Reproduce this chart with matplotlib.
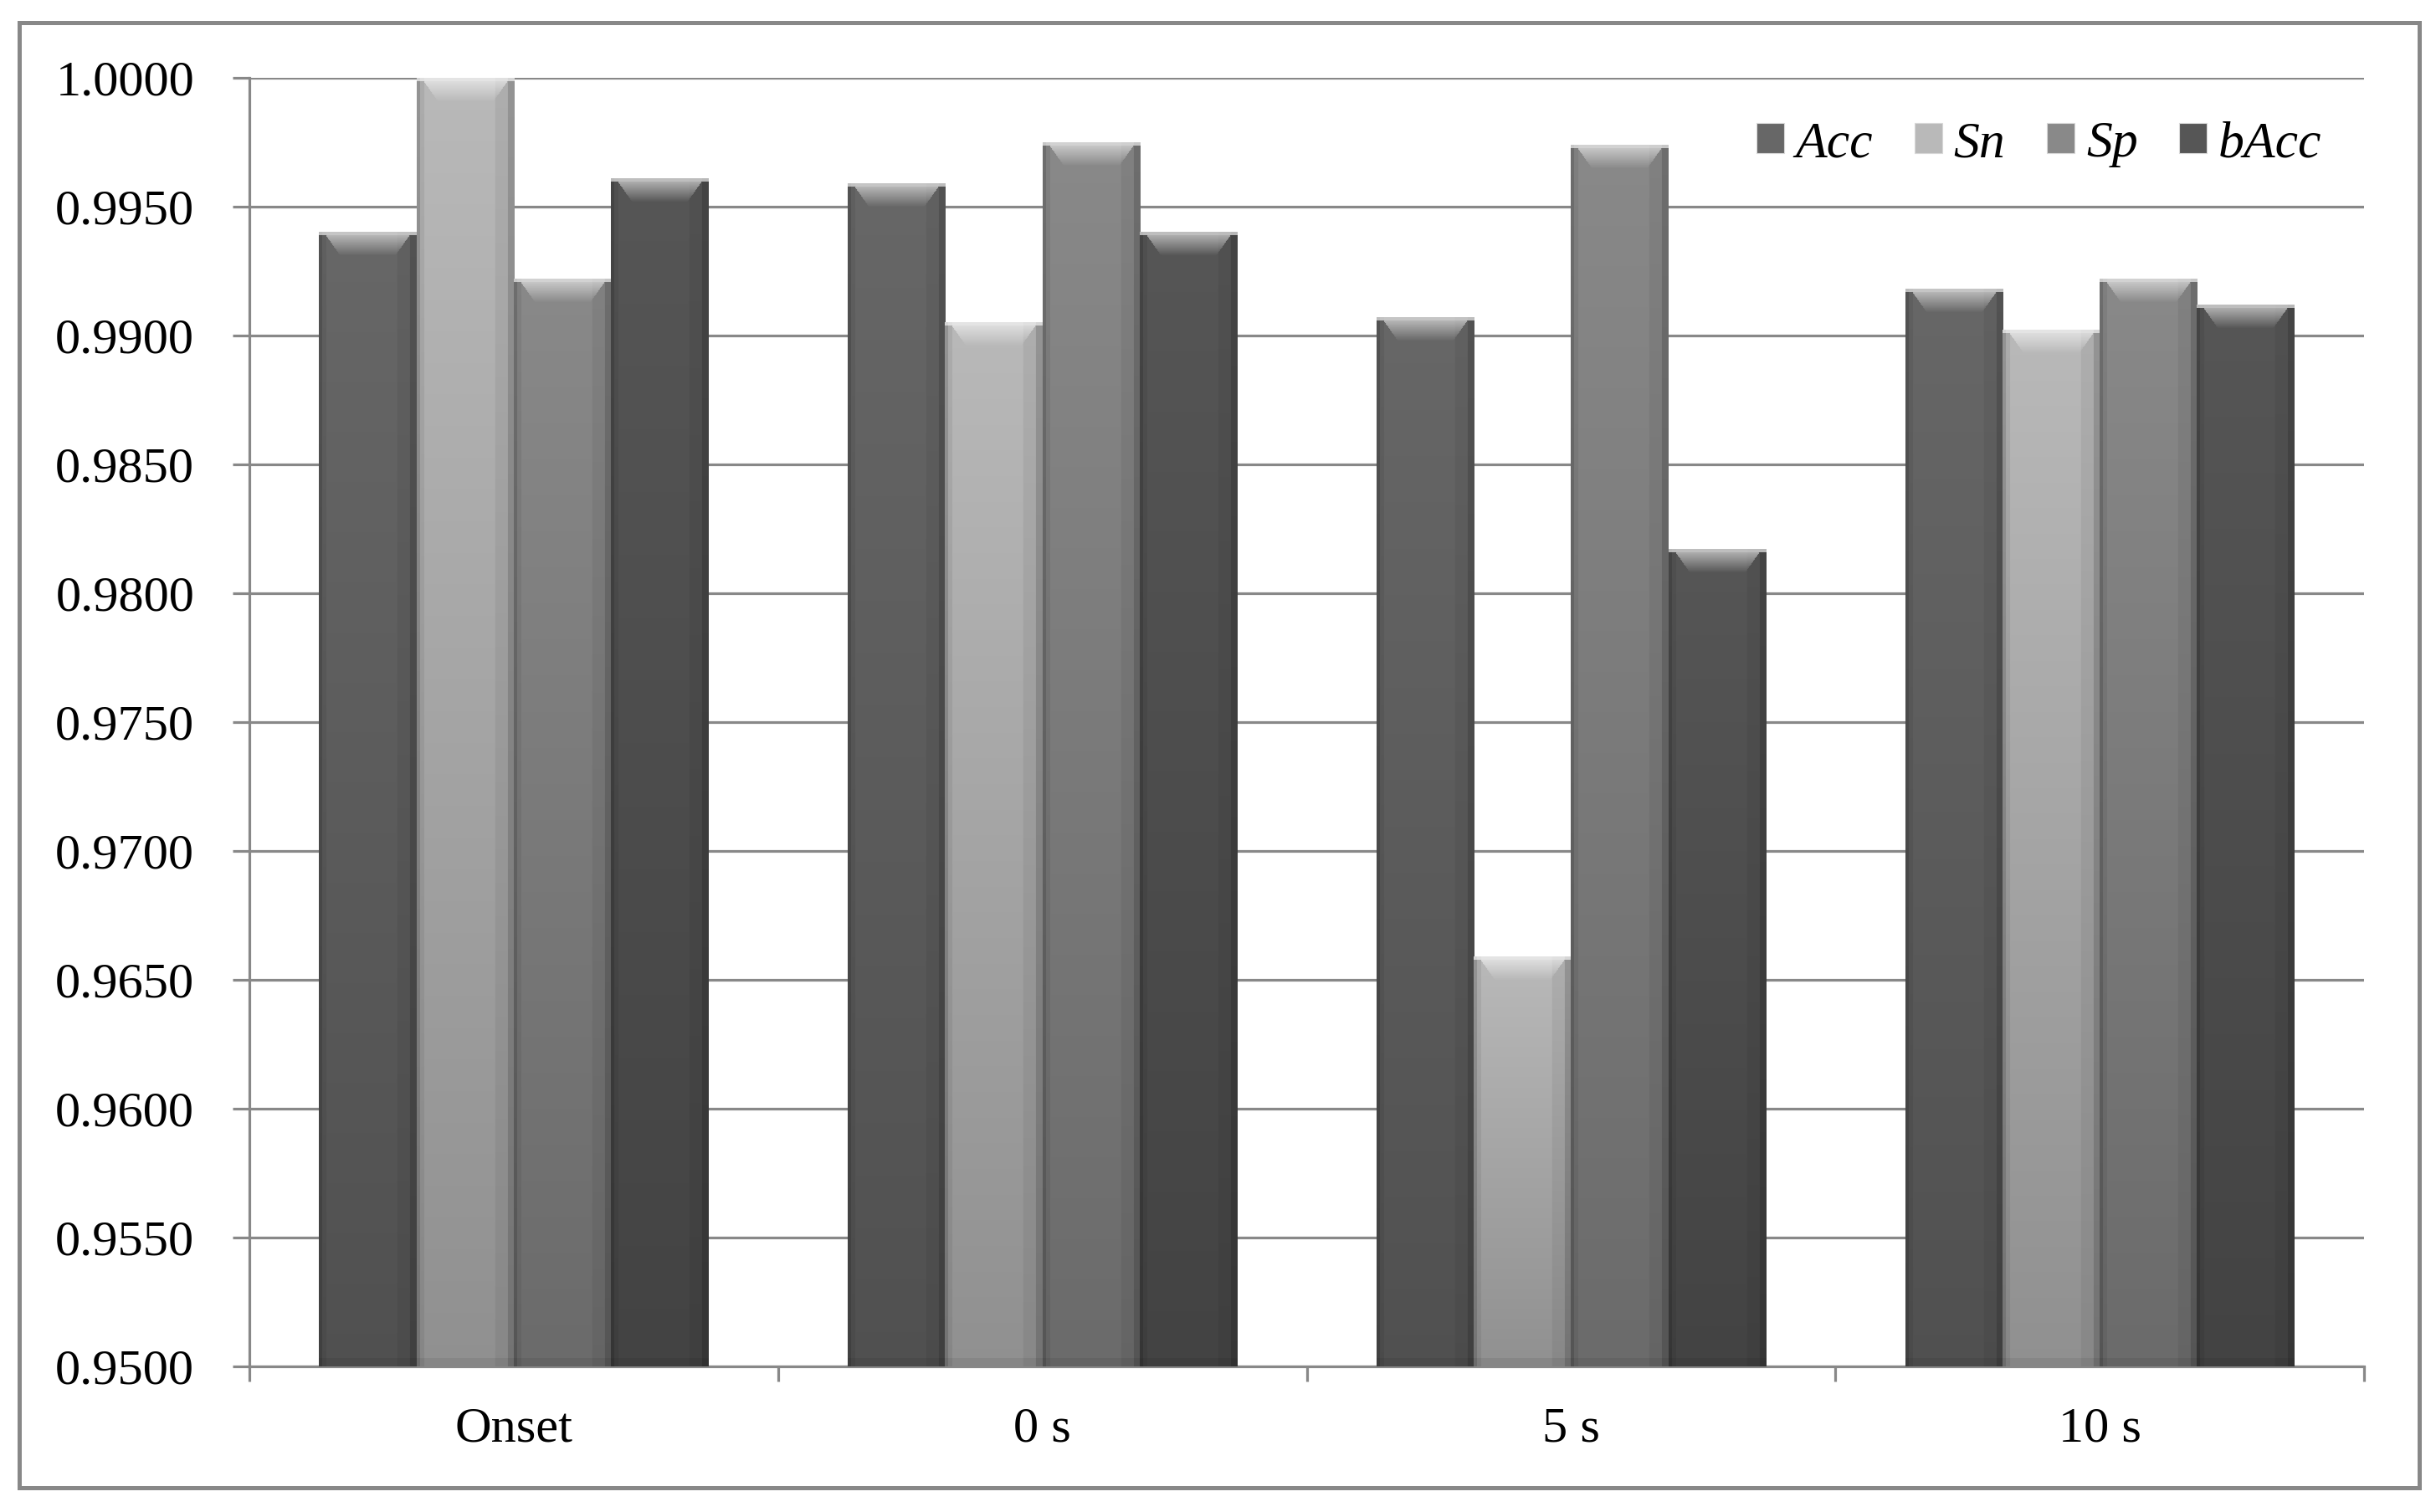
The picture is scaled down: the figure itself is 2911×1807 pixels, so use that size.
import numpy as np
import matplotlib
matplotlib.use("Agg")
import matplotlib.pyplot as plt
from matplotlib.patches import Rectangle, Patch
from matplotlib.ticker import FormatStrFormatter

# ---------------- data ----------------
categories = ["Onset", "0 s", "5 s", "10 s"]
series_names = ["Acc", "Sn", "Sp", "bAcc"]
acc_values = [0.9940, 0.9959, 0.9907, 0.9918]
sn_values = [1.0000, 0.9905, 0.9659, 0.9902]
sp_values = [0.9922, 0.9975, 0.9974, 0.9922]
bacc_values = [0.9961, 0.9940, 0.9817, 0.9912]
y_ticks = [0.9500, 0.9550, 0.9600, 0.9650, 0.9700, 0.9750,
           0.9800, 0.9850, 0.9900, 0.9950, 1.0000]

series_values = [acc_values, sn_values, sp_values, bacc_values]
series_colors = ["#676767", "#b9b9b9", "#898989", "#565656"]

# ---------------- figure ----------------
W, H, DPI = 2911, 1807, 100
fig = plt.figure(figsize=(W / DPI, H / DPI), dpi=DPI)
fig.patch.set_facecolor("white")

FONT = "Liberation Serif"
FS = 43.5
FS_LEG = 44.5
GRID_C = "#888888"

# outer frame
fig.patches.append(Rectangle((23 / W, 1 - 1778 / H), (2891 - 23) / W, (1778 - 27) / H,
                             transform=fig.transFigure, fill=False,
                             edgecolor=GRID_C, linewidth=3.6, zorder=0))

ax_l, ax_r = 298 / W, 2825 / W
ax_b, ax_t = 1 - 1633 / H, 1 - 93 / H
ax = fig.add_axes([ax_l, ax_b, ax_r - ax_l, ax_t - ax_b])
ax.set_facecolor("none")

n = len(categories)
x = np.arange(n)
bw = 0.184

ax.set_xlim(-0.5, n - 0.5)
ax.set_ylim(y_ticks[0], y_ticks[-1])

px_w = ax.bbox.width
px_h = ax.bbox.height
dx_per_px = (n) / px_w
dy_per_px = (y_ticks[-1] - y_ticks[0]) / px_h


def to_rgb(c):
    return np.array(matplotlib.colors.to_rgb(c))


def shade_bar(rect, color):
    x0, y0 = rect.get_x(), rect.get_y()
    w, h = rect.get_width(), rect.get_height()
    wp = max(int(round(w / dx_per_px)), 4)
    hp = max(int(round(h / dy_per_px)), 4)
    base = to_rgb(color)
    u = (np.arange(wp) + 0.5) / wp
    r = np.arange(hp)  # 0 = top
    # horizontal profile
    hprof = np.ones(wp)
    hprof[u < 0.035] = 0.80
    hprof[(u >= 0.035) & (u < 0.08)] = 0.93
    hprof[(u > 0.80) & (u <= 0.93)] = 0.94
    hprof[u > 0.93] = 0.80
    # vertical profile (darker toward the bottom)
    frac = 1 - (r + 0.5) / hp
    vprof = 0.78 + 0.22 * frac
    img = base[None, None, :] * hprof[None, :, None] * vprof[:, None, None]
    # top highlight (bevel)
    cap = 28
    d = r[:, None].astype(float)
    inset = 0.05 + 0.17 * np.clip(d / cap, 0, 1)
    inside = (u[None, :] > inset) & (u[None, :] < 1 - inset)
    wgt = np.where(inside & (d < cap), 0.6 * (1 - d / cap), 0.0)
    wgt = np.where(d < 4, 0.62, wgt)
    img = img * (1 - wgt[..., None]) + wgt[..., None] * 1.0
    # bottom bevel
    bot = (hp - 1 - r) < 10
    img[bot] = img[bot] * 0.93
    img = np.clip(img, 0, 1)
    ax.imshow(img, extent=(x0, x0 + w, y0, y0 + h), aspect="auto",
              origin="upper", interpolation="bilinear", zorder=3)


for i, (vals, col) in enumerate(zip(series_values, series_colors)):
    offs = (i - (len(series_values) - 1) / 2) * bw
    bottoms = [y_ticks[0]] * n
    heights = [v - y_ticks[0] for v in vals]
    bars = ax.bar(x + offs, heights, bw, bottom=bottoms, color=col,
                  edgecolor="none", zorder=2, label=series_names[i])
    for rect in bars:
        shade_bar(rect, col)

ax.set_xlim(-0.5, n - 0.5)
ax.set_ylim(y_ticks[0], y_ticks[-1])

# axes styling
for s in ["top", "right"]:
    ax.spines[s].set_visible(False)
for s in ["left", "bottom"]:
    ax.spines[s].set_color(GRID_C)
    ax.spines[s].set_linewidth(2.3)
    ax.spines[s].set_zorder(1)

ax.set_yticks(y_ticks)
ax.yaxis.set_major_formatter(FormatStrFormatter("%.4f"))
ax.yaxis.grid(True, color=GRID_C, linewidth=2.3, zorder=1)
ax.set_axisbelow(True)
ax.tick_params(axis="y", direction="out", length=14.4, width=2.3, color=GRID_C,
               pad=33, labelsize=FS)

ax.set_xticks(x)
ax.set_xticklabels(categories)
ax.set_xticks(np.arange(n + 1) - 0.5, minor=True)
ax.tick_params(axis="x", which="major", length=0, pad=35, labelsize=FS)
ax.tick_params(axis="x", which="minor", direction="out", length=13, width=2.3,
               color=GRID_C)

for lab in ax.get_xticklabels() + ax.get_yticklabels():
    lab.set_fontfamily(FONT)
    lab.set_color("black")

handles = [Patch(facecolor=c, edgecolor="#d8d8d8", linewidth=0.8) for c in series_colors]
leg = ax.legend(handles, series_names, loc="center right",
                bbox_to_anchor=(0.980, 0.9485), ncol=4, frameon=False,
                prop={"family": FONT, "style": "italic", "size": FS_LEG},
                handlelength=0.54, handleheight=0.51, handletextpad=0.22,
                columnspacing=0.8, borderpad=0, borderaxespad=0)
leg.set_zorder(5)

fig.savefig("out.png", dpi=DPI, facecolor="white")
